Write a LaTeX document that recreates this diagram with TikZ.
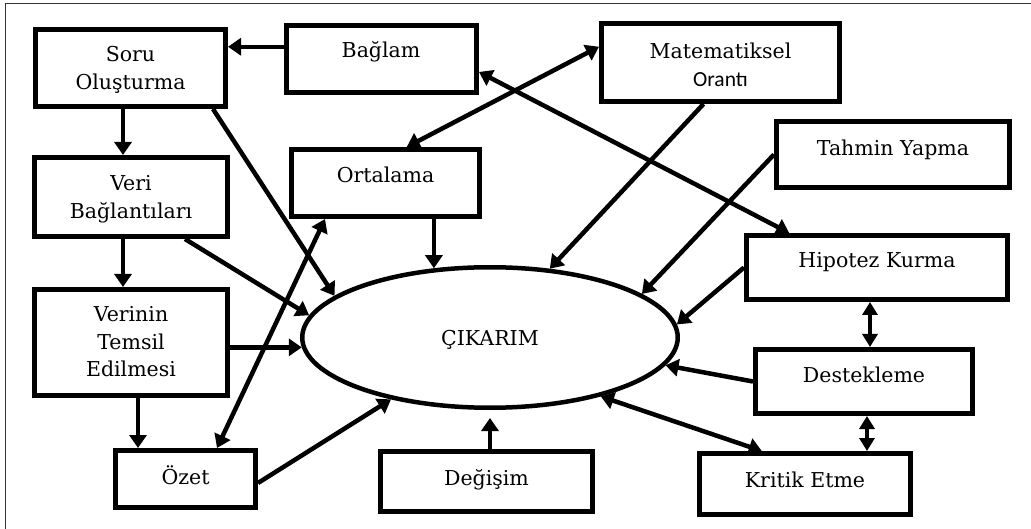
\documentclass[tikz,border=0pt]{standalone}
\usepackage{fontspec}
\setmainfont{DejaVu Serif}
\newfontfamily\calibri{Carlito}
\usetikzlibrary{arrows.meta,shapes.geometric,calc}
\tikzset{
  box/.style={draw, line width=5pt, rectangle, inner sep=0pt},
  txt/.style={font=\fontsize{20.5}{27.5}\selectfont, align=center, inner sep=0pt},
  arr/.style={line width=4.5pt, -{Triangle[length=13pt,width=17pt]}},
  darr/.style={line width=4.5pt, {Triangle[length=13pt,width=17pt]}-{Triangle[length=13pt,width=17pt]}},
  sdarr/.style={line width=3.2pt, {Triangle[length=13pt,width=15pt]}-{Triangle[length=13pt,width=15pt]}},
  frame/.style={line width=1.5pt, black!80},
}
\newcommand\boxat[5]{%
  \node[box, minimum width={#4-#2-5}, minimum height={#5-#3-5}] (#1) at ({(#2+#4)/2},{(#3+#5)/2}) {};}
\begin{document}
\begin{tikzpicture}[x=1pt,y=-1pt]
\useasboundingbox (0,0) rectangle (1031,529);
\draw[frame] (5.5,529) -- (5.5,3.5) -- (1031,3.5);

% boxes
\boxat{soru}{33}{27}{228}{109}
\boxat{bag}{284}{23}{479}{95}
\boxat{veri}{32}{155}{230}{239}
\boxat{ort}{289}{147}{482}{219}
\boxat{mat}{599}{21}{842}{104}
\boxat{tah}{774}{119}{1012}{190}
\boxat{hip}{744}{233}{1010}{302}
\boxat{des}{753}{347}{975}{416}
\boxat{kri}{697}{451}{913}{517}
\boxat{ver}{32}{287}{230}{398}
\boxat{oze}{113}{448}{258}{510}
\boxat{deg}{378}{449}{595}{514}

% texts
\node[txt] (soruT) at (130.5,70) {Soru\\Oluşturma};
\node[txt] (bagT) at (381,52) {Bağlam};
\node[txt] (veriT) at (131,199) {Veri\\Bağlantıları};
\node[txt] (ortT) at (385.5,174.5) {Ortalama};
\node[txt] (matT) at (720.5,65) {Matematiksel\\{\calibri\fontsize{21.5}{27.5}\selectfont Orantı}};
\node[txt] (tahT) at (893,150) {Tahmin Yapma};
\node[txt] (hipT) at (877,262) {Hipotez Kurma};
\node[txt] (desT) at (864,374.5) {Destekleme};
\node[txt] (kriT) at (805,479.5) {Kritik Etme};
\node[txt] (verT) at (131,342) {Verinin\\Temsil\\Edilmesi};
\node[txt] (ozeT) at (185.5,475) {Özet};
\node[txt] (degT) at (486.5,480) {Değişim};

% central ellipse
\node[draw, ellipse, line width=4.5pt, minimum width=375.5, minimum height=140.5, inner sep=0pt,
      font=\fontsize{20.5}{27.5}\selectfont, text depth=0pt] (cik) at (490,337.5) {ÇIKARIM};

% helper coordinates
\coordinate (b1) at ($(bag.north west)!0.33!(bag.south west)$);
\coordinate (hx) at (870,0);
\coordinate (dx) at (867,0);

% connectors
\draw[arr] (b1) -- (soru.east |- b1);
\draw[arr] ([xshift=-7.5pt]soru.south) -- ([xshift=-8pt]veri.north);
\draw[arr] ([xshift=-8pt]veri.south) -- ([xshift=-8pt]ver.north);
\draw[arr] ([xshift=7pt]ver.south) -- ([xshift=-47.5pt]oze.north);
\draw[arr] ([xshift=82.5pt]soru.south) -- (cik.165);
\draw[arr] ([xshift=54pt]veri.south) -- (cik.173);
\draw[arr] (ver.east |- cik.183) -- (cik.183);
\draw[arr] ([yshift=-4pt]oze.east) -- (cik.212);
\draw[darr] ([xshift=31.5pt]oze.north) -- ([xshift=-60.5pt]ort.south);
\draw[arr] (ort.south -| cik.129) -- (cik.129);
\draw[darr] ($(ort.north west)!0.61!(ort.north east)$) -- ($(mat.north west)!0.31!(mat.south west)$);
\draw[darr] ($(bag.north east)!0.68!(bag.south east)$) -- ($(hip.north west)!0.17!(hip.north east)$);
\draw[arr] ($(mat.south west)!0.43!(mat.south east)$) -- (cik.49);
\draw[arr] (tah.west) -- (cik.16);
\draw[arr] (hip.west) -- (cik.4);
\draw[arr] (des.west) -- (cik.351);
\draw[darr] ($(kri.north west)!0.30!(kri.north east)$) -- (cik.332);
\draw[sdarr] (hip.south -| hx) -- (des.north -| hx);
\draw[sdarr] (des.south -| dx) -- (kri.north -| dx);
\draw[arr] ([xshift=3.5pt]deg.north) -- ([yshift=-8pt]cik.south);
\end{tikzpicture}
\end{document}
